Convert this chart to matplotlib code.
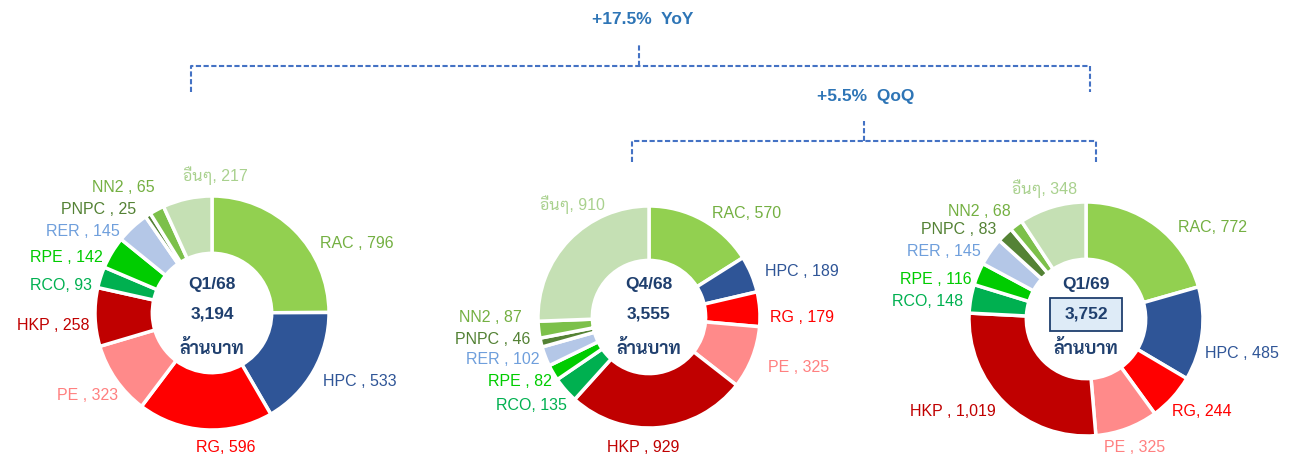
import matplotlib
matplotlib.use("Agg")
import matplotlib.pyplot as plt
from matplotlib.patches import Rectangle

plt.rcParams['font.family'] = ['Liberation Sans', 'Sarabun', 'Noto Sans Thai', 'DejaVu Sans']

# data
segments = ["RAC", "HPC", "RG", "PE", "HKP", "RCO", "RPE", "RER", "PNPC", "NN2", "อื่นๆ"]
periods = ["Q1/68", "Q4/68", "Q1/69"]
totals = [3194, 3555, 3752]
q1_68 = [796, 533, 596, 323, 258, 93, 142, 145, 25, 65, 217]
q4_68 = [570, 189, 179, 325, 929, 135, 82, 102, 46, 87, 910]
q1_69 = [772, 485, 244, 325, 1019, 148, 116, 145, 83, 68, 348]
# spacing before the comma in each label, as written on the slide
gap_q1_68 = [" ", " ", "", " ", " ", "", " ", " ", " ", " ", ""]
gap_q4_68 = ["", " ", " ", " ", " ", "", " ", " ", " ", " ", ""]
gap_q1_69 = ["", " ", "", " ", " ", "", " ", " ", " ", " ", ""]
yoy_text = "+17.5%  YoY"
qoq_text = "+5.5%  QoQ"
unit = "ล้านบาท"

# styles
wedge_colors = ["#92D050", "#2F5597", "#FF0000", "#FF8A8A", "#C00000", "#00B050",
                "#00CC00", "#B4C7E7", "#548235", "#7CC04A", "#C5E0B4"]
label_colors = ["#74B042", "#2F5597", "#FF0000", "#FF8080", "#C00000", "#00B050",
                "#00CC00", "#6F9FDC", "#548235", "#74B042", "#A9D18E"]
navy = "#1F3F6E"
bracket_blue = "#4472C4"
text_blue = "#2E75B6"

# layout in pixels (x, y from top-left)
W, H = 1299, 459
centers = [(212, 313), (649, 317), (1086, 319)]
radii = [117, 111, 117]
# label anchor (x, y, ha) per chart
label_pos = [
    [(320, 243, 'left'), (323, 381, 'left'), (226, 447, 'center'), (118, 396, 'right'),
     (90, 326, 'right'), (92, 285, 'right'), (103, 257, 'right'), (120, 232, 'right'),
     (136, 209, 'right'), (155, 188, 'right'), (215, 176, 'center')],
    [(712, 214, 'left'), (765, 272, 'left'), (770, 318, 'left'), (768, 367, 'left'),
     (643, 447, 'center'), (567, 405, 'right'), (552, 382, 'right'), (540, 360, 'right'),
     (530, 340, 'right'), (522, 318, 'right'), (572, 205, 'center')],
    [(1178, 227, 'left'), (1205, 353, 'left'), (1172, 412, 'left'), (1135, 448, 'center'),
     (996, 411, 'right'), (963, 302, 'right'), (972, 279, 'right'), (981, 252, 'right'),
     (996, 230, 'right'), (1011, 211, 'right'), (1045, 189, 'center')],
]

fig = plt.figure(figsize=(W / 100, H / 100), dpi=100)
ax = fig.add_axes([0, 0, 1, 1])


def Y(y):
    return H - y


all_values = [q1_68, q4_68, q1_69]
all_gaps = [gap_q1_68, gap_q4_68, gap_q1_69]

for i, vals in enumerate(all_values):
    cx, cy = centers[i]
    r = radii[i]
    ax.pie(vals, colors=wedge_colors, startangle=90, counterclock=False,
           center=(cx, Y(cy)), radius=r, frame=True,
           wedgeprops=dict(width=r * 0.49, edgecolor='white', linewidth=2.5))
    for j, v in enumerate(vals):
        lx, ly, ha = label_pos[i][j]
        ax.text(lx, Y(ly), f"{segments[j]}{all_gaps[i][j]}, {v:,}", ha=ha, va='center',
                fontsize=11.5, color=label_colors[j])
    # centre text
    ax.text(cx, Y(284), periods[i], ha='center', va='center', fontsize=12.5,
            fontweight='bold', color=navy)
    if i == 2:
        # highlight box around the latest total
        ax.add_patch(Rectangle((cx - 36, Y(331)), 72, 33, facecolor='#DEEBF7',
                               edgecolor=navy, linewidth=1.3, zorder=3))
    ax.text(cx, Y(314), f"{totals[i]:,}", ha='center', va='center', fontsize=12.5,
            fontweight='bold', color=navy, zorder=4)
    ax.text(cx, Y(349), unit, ha='center', va='center', fontsize=13,
            fontweight='bold', color=navy)

ax.set_xlim(0, W)
ax.set_ylim(0, H)
ax.set_aspect('equal')
ax.axis('off')


def bracket(x0, x1, y_top, y_end, xm, y_tick):
    kw = dict(color=bracket_blue, linewidth=1.5, linestyle=(0, (2.5, 1.2)))
    ax.plot([x0, x0, x1, x1], [Y(y_end), Y(y_top), Y(y_top), Y(y_end)], **kw)
    ax.plot([xm, xm], [Y(y_top), Y(y_tick)], **kw)


bracket(191, 1090, 66, 92, 639, 45)
bracket(632, 1096, 141, 162, 864, 121)
ax.text(643, Y(20), yoy_text, ha='center', va='center', fontsize=12.5,
        fontweight='bold', color=text_blue)
ax.text(866, Y(97), qoq_text, ha='center', va='center', fontsize=12.5,
        fontweight='bold', color=text_blue)

fig.savefig("out.png", dpi=100)
